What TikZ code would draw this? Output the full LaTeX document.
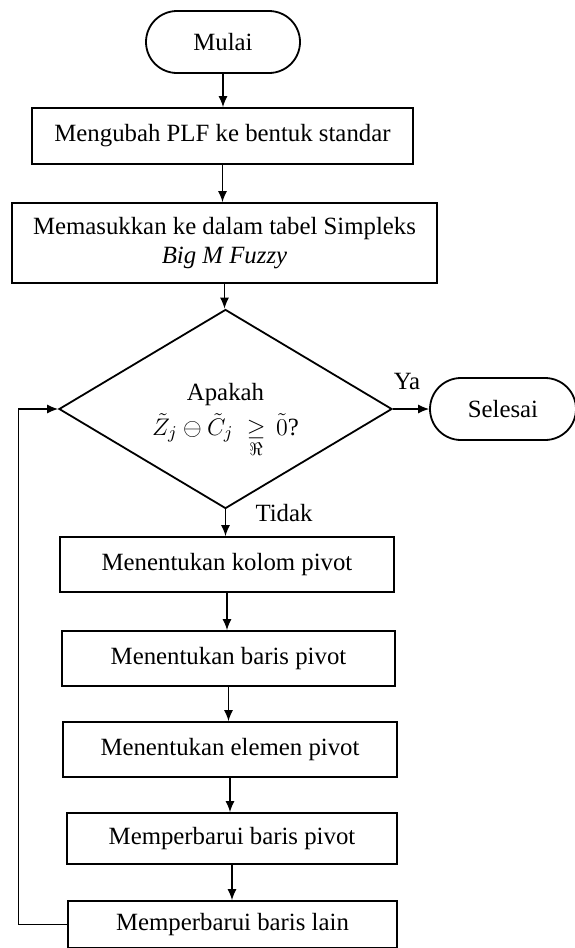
\documentclass[tikz,border=0pt]{standalone}
\usepackage{amsmath,amssymb}
\usepackage{fontspec}
\setmainfont{Liberation Serif}
\usetikzlibrary{shapes.geometric,shapes.misc,arrows.meta}
\begin{document}
\begin{tikzpicture}[>={Latex[length=5.5pt,width=4.5pt]}, x=.5pt, y=-.5pt,
  font=\fontsize{12.4}{14.5}\selectfont,
  proses/.style={draw, line width=.9pt, minimum height=27.5pt, inner sep=0pt},
  ujung/.style={draw, rounded rectangle, line width=.9pt, minimum height=31pt, inner sep=0pt},
  panah/.style={->, line width=.6pt}]
\useasboundingbox (0,0) rectangle (574,948);
\node[ujung, minimum width=77pt] (mulai) at (223,42) {Mulai};
\node[proses, minimum width=190.5pt, minimum height=28pt] (ubah) at (222.5,136) {Mengubah PLF ke bentuk standar};
\node[proses, minimum width=212.5pt, minimum height=40pt, align=center] (masuk) at (224.5,243) {Memasukkan ke dalam tabel Simpleks\\\textit{Big M Fuzzy}};
\node[draw, diamond, line width=.9pt, minimum width=166.5pt, minimum height=91pt, inner sep=0pt, align=center] (cek) at (225.5,409) {Apakah\\[3pt]\smash[b]{$\tilde{Z}_j\ominus\tilde{C}_j\;\underset{\Re}{\geq}\,\tilde{0}$?}};
\node[ujung, minimum width=73pt] (selesai) at (503,409) {Selesai};
\node[proses, minimum width=167pt] (kolom) at (227,564.5) {Menentukan kolom pivot};
\node[proses, minimum width=166.5pt] (baris) at (228.5,658.5) {Menentukan baris pivot};
\node[proses, minimum width=167pt] (elemen) at (230,749.5) {Menentukan elemen pivot};
\node[proses, minimum width=165pt, minimum height=25.5pt] (perbarui) at (232,838.5) {Memperbarui baris pivot};
\node[proses, minimum width=164.5pt, minimum height=23.5pt] (lain) at (232.5,924.5) {Memperbarui baris lain};
\node (ya) at (407,381) {Ya};
\node (tidak) at (284,513) {Tidak};
% alur utama
\draw[panah] (mulai.south)--(mulai.south |- ubah.north);
\draw[panah] (ubah.south)--(ubah.south |- masuk.north);
\draw[panah] (masuk.south)--(masuk.south |- cek.north);
\draw[panah] (cek.east)--(selesai.west);
\draw[panah] (cek.south)--(cek.south |- kolom.north);
\draw[panah] (kolom.south)--(kolom.south |- baris.north);
\draw[panah] (baris.south)--(baris.south |- elemen.north);
\draw[panah] (elemen.south)--(elemen.south |- perbarui.north);
\draw[panah] (perbarui.south)--(perbarui.south |- lain.north);
% kembali ke pengecekan
\draw[panah] (lain.west)--++(-49,0) |- (cek.west);
\end{tikzpicture}
\end{document}
